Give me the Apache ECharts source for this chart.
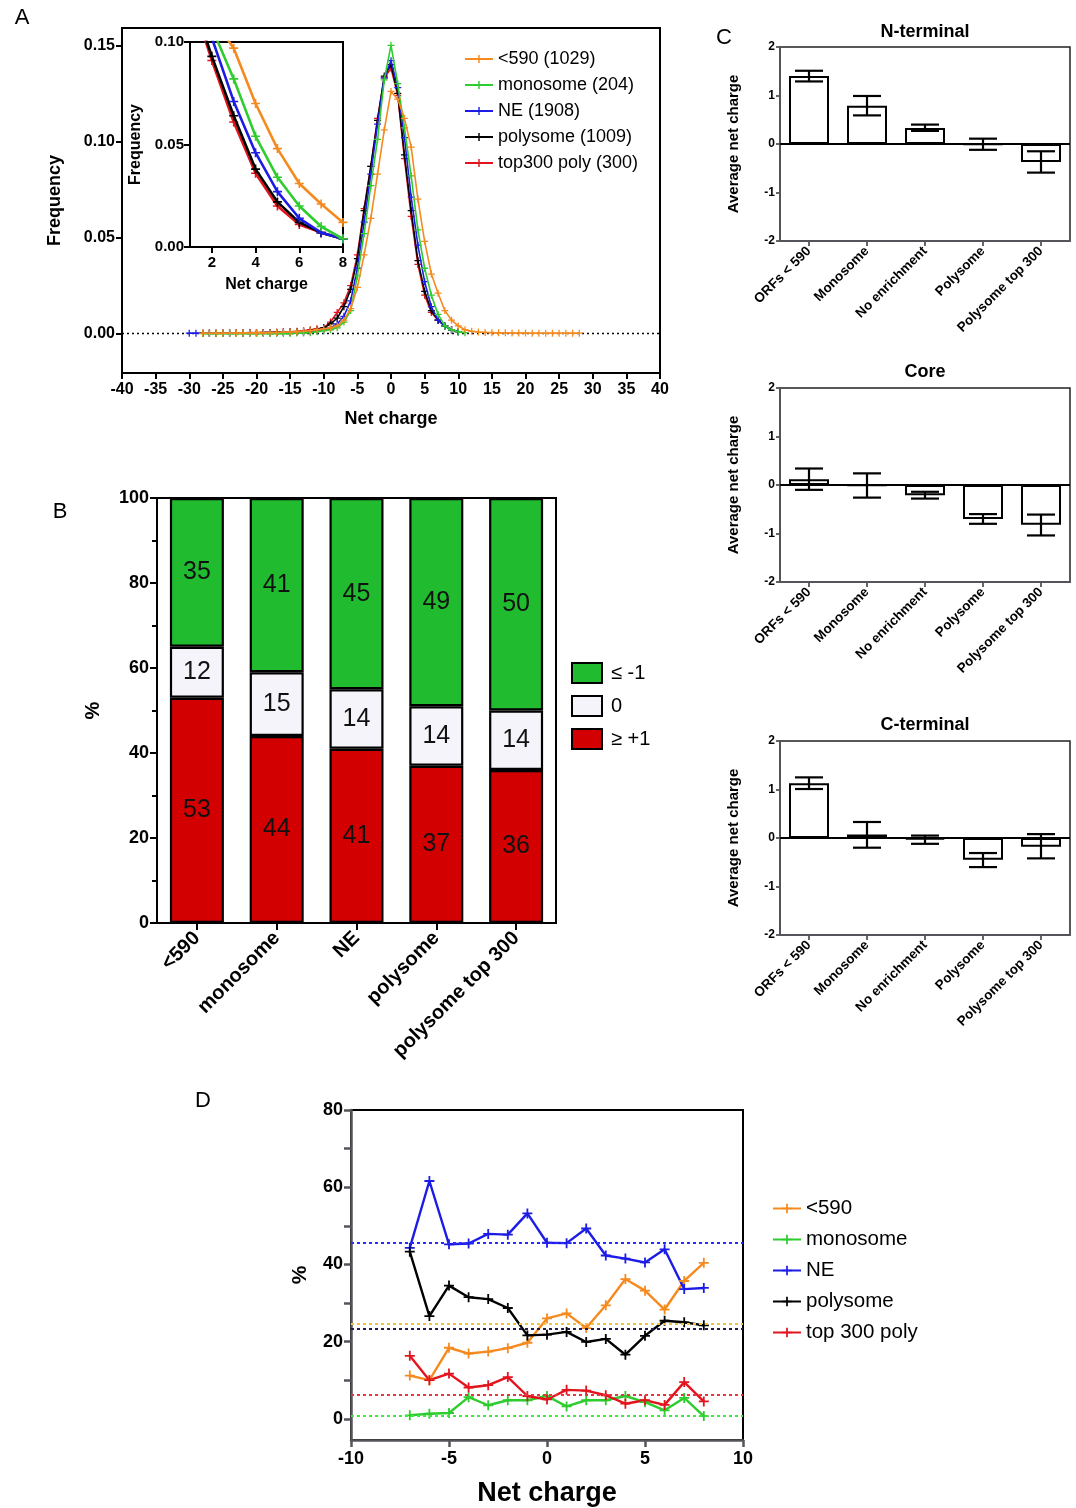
<!DOCTYPE html>
<html><head><meta charset="utf-8">
<script src="https://cdn.jsdelivr.net/npm/echarts@6/dist/echarts.min.js"></script>
<style>html,body{margin:0;padding:0;background:#fff}#c{width:1076px;height:1508px}</style>
</head><body><div id="c"></div><script>
const FONT = '"Liberation Sans", Arial, Helvetica, sans-serif';

// ---------- Panel A data (frequency vs net charge) ----------
const namesA = ['<590 (1029)', 'monosome (204)', 'NE (1908)', 'polysome (1009)', 'top300 poly (300)'];
const startA = [-28, -28, -30, -28, -28];
const freqOrange = [0.0003,0.0002,0.0003,0.0002,0.0003,0.0003,0.0004,0.0003,0.0005,0.0004,0.0005,0.0006,0.0008,0.0008,0.001,0.0012,
  0.0015,0.002,0.0025,0.003,0.004,0.007,0.013,0.024,0.041,0.060,0.083,0.106,
  0.126,
  0.122,0.112,0.097,0.070,0.048,0.031,0.021,0.012,0.007,0.004,0.002,0.0012,
  0.0008,0.0006,0.0005,0.0004,0.0004,0.0003,0.0003,0.0003,0.0002,0.0002,0.0002,0.0002,0.0002,0.0002,0.0002,0.0002];
const freqMonosome = [0,0,0,0,0,0,0,0,0,0,0,0,0,0,0.0003,0.0003,
  0.0005,0.001,0.0015,0.002,0.003,0.006,0.012,0.030,0.052,0.077,0.101,0.132,
  0.150,
  0.130,0.107,0.082,0.054,0.034,0.020,0.010,0.004,0.002,0.001,0.0005];
const freqNE = [0.0002,0.0002,0.0002,0.0002,0.0002,0.0002,0.0003,0.0003,0.0003,0.0003,0.0004,0.0004,0.0005,0.0005,0.0006,0.0007,0.0008,0.0009,
  0.001,0.0015,0.002,0.003,0.005,0.009,0.017,0.034,0.058,0.083,0.109,0.133,
  0.142,
  0.128,0.102,0.071,0.046,0.027,0.014,0.007,0.004,0.002,0.001];
const freqPolysome = [0.0002,0.0002,0.0002,0.0003,0.0002,0.0003,0.0003,0.0004,0.0003,0.0005,0.0005,0.0006,0.0008,0.0008,0.001,0.001,
  0.0015,0.002,0.003,0.005,0.008,0.014,0.023,0.039,0.064,0.087,0.111,0.134,
  0.140,
  0.125,0.093,0.064,0.038,0.022,0.012,0.007,0.004,0.002,0.001];
const freqTop300 = [0.0002,0.0003,0.0002,0.0003,0.0003,0.0004,0.0003,0.0005,0.0005,0.0006,0.0006,0.0008,0.001,0.001,0.0012,0.0015,
  0.002,0.0025,0.003,0.006,0.011,0.016,0.025,0.041,0.065,0.087,0.112,0.133,
  0.138,
  0.124,0.091,0.061,0.036,0.020,0.011,0.007,0.004,0.002,0.001];
const freqA = [freqOrange, freqMonosome, freqNE, freqPolysome, freqTop300];
const ticksAy = [0, 0.05, 0.10, 0.15];
const ticksInsetX = [2, 4, 6, 8];

// ---------- Panel B data ----------
const catsB = ['<590', 'monosome', 'NE', 'polysome', 'polysome top 300'];
const posB = [53, 44, 41, 37, 36];
const zeroB = [12, 15, 14, 14, 14];
const negB = [35, 41, 45, 49, 50];

// ---------- Panel C data ----------
const catsC = ['ORFs < 590', 'Monosome', 'No enrichment', 'Polysome', 'Polysome top 300'];
const titlesC = ['N-terminal', 'Core', 'C-terminal'];
const nTermMean = [1.40, 0.79, 0.33, -0.01, -0.37];
const nTermLow  = [1.29, 0.59, 0.27, -0.12, -0.59];
const nTermHigh = [1.51, 0.99, 0.40, 0.11, -0.15];
const coreMean = [0.12, -0.01, -0.21, -0.70, -0.82];
const coreLow  = [-0.10, -0.26, -0.28, -0.80, -1.04];
const coreHigh = [0.34, 0.24, -0.14, -0.60, -0.61];
const cTermMean = [1.13, 0.07, -0.03, -0.45, -0.18];
const cTermLow  = [1.01, -0.20, -0.12, -0.60, -0.42];
const cTermHigh = [1.25, 0.33, 0.05, -0.31, 0.08];

// ---------- Panel D data ----------
const namesD = ['<590', 'monosome', 'NE', 'polysome', 'top 300 poly'];
const chargeD = [-7,-6,-5,-4,-3,-2,-1,0,1,2,3,4,5,6,7,8];
const dOrange   = [11.2,10.0,18.4,16.9,17.4,18.3,19.7,26.0,27.3,23.5,29.4,36.2,33.2,28.3,35.7,40.4];
const dMonosome = [0.9,1.3,1.5,5.6,3.5,4.8,4.8,5.9,3.2,4.8,4.8,5.9,4.3,2.2,5.4,0.7];
const dNE       = [44.3,61.6,45.2,45.4,47.9,47.7,53.2,45.6,45.5,49.3,42.3,41.5,40.5,43.9,33.6,33.9];
const dPolysome = [43.3,26.6,34.5,31.5,31.0,28.7,21.6,21.8,22.5,19.9,20.7,16.6,21.5,25.4,25.0,24.2];
const dTop300   = [16.3,10.0,11.7,8.1,8.7,10.8,5.9,5.0,7.5,7.3,6.1,3.9,4.8,3.6,9.5,4.5];
const dMeans    = [24.7, 0.9, 45.5, 23.4, 6.3];
const ticksDyLabel = [0, 20, 40, 60, 80];
const ticksDy = [0, 10, 20, 30, 40, 50, 60, 70, 80];

// ---------- styling ----------
const colors = ['#f58a1f', '#2fcc2f', '#1c1ce6', '#000000', '#e3141e'];
const meanColors = ['#f0c43a', '#3ee83e', '#2a2aff', '#1c1c50', '#e8343c'];
const PLUS = 'path://M0,4.1H10V5.9H0Z M4.1,0H5.9V10H4.1Z';

function axisBase(fs, extra) {
  return Object.assign({
    axisLine: { show: true, onZero: false, lineStyle: { color: '#000', width: 2 } },
    axisTick: { show: true, length: 6, lineStyle: { color: '#000', width: 2 } },
    axisLabel: { color: '#000', fontWeight: 'bold', fontSize: fs, fontFamily: FONT },
    splitLine: { show: false },
    nameTextStyle: { color: '#000', fontWeight: 'bold', fontFamily: FONT }
  }, extra || {});
}
function deep(a, b) {
  const r = Object.assign({}, a);
  for (const k in b) {
    if (b[k] && typeof b[k] === 'object' && !Array.isArray(b[k]) && a[k] && typeof a[k] === 'object') r[k] = Object.assign({}, a[k], b[k]);
    else r[k] = b[k];
  }
  return r;
}

const grids = [
  { left: 122, top: 28, width: 538, height: 345 },   // 0 A main
  { left: 190, top: 42, width: 153, height: 205, backgroundColor: '#fff' }, // 1 A inset
  { left: 157, top: 498, width: 399, height: 425 },  // 2 B
  { left: 780, top: 47, width: 290, height: 194 },   // 3 C1
  { left: 780, top: 388, width: 290, height: 194 },  // 4 C2
  { left: 780, top: 741, width: 290, height: 194 },  // 5 C3
  { left: 351, top: 1110, width: 392, height: 330 }  // 6 D
].map((g, i) => Object.assign({ show: true, borderColor: i >= 3 && i <= 5 ? '#222' : '#000', borderWidth: i >= 3 && i <= 5 ? 1.5 : 2, outerBoundsMode: 'none', containLabel: false }, g));

const xAxes = [], yAxes = [];
// A main
xAxes.push(deep(axisBase(16), { gridIndex: 0, type: 'value', min: -40, max: 40, interval: 5,
  axisLabel: { margin: 9 }, name: 'Net charge', nameLocation: 'middle', nameGap: 37, nameTextStyle: { fontSize: 18 } }));
yAxes.push(deep(axisBase(16), { gridIndex: 0, type: 'value', min: -0.0205, max: 0.159,
  axisLabel: { customValues: ticksAy, formatter: v => v.toFixed(2), margin: 7 }, axisTick: { customValues: ticksAy },
  name: 'Frequency', nameLocation: 'middle', nameGap: 58, nameTextStyle: { fontSize: 18 } }));
// A inset
xAxes.push(deep(axisBase(15), { gridIndex: 1, type: 'value', min: 1, max: 8,
  axisLabel: { customValues: ticksInsetX, margin: 8 }, axisTick: { customValues: ticksInsetX },
  name: 'Net charge', nameLocation: 'middle', nameGap: 30, nameTextStyle: { fontSize: 16 } }));
yAxes.push(deep(axisBase(15), { gridIndex: 1, type: 'value', min: 0, max: 0.10, interval: 0.05,
  axisLabel: { formatter: v => v.toFixed(2), margin: 6 },
  name: 'Frequency', nameLocation: 'middle', nameGap: 46, nameTextStyle: { fontSize: 16 } }));
// B
xAxes.push(deep(axisBase(20), { gridIndex: 2, type: 'category', data: catsB,
  axisTick: { alignWithLabel: true, length: 7 }, axisLabel: { rotate: 45, margin: 12, interval: 0 } }));
yAxes.push(deep(axisBase(18), { gridIndex: 2, type: 'value', min: 0, max: 100, interval: 20,
  axisTick: { length: 7 }, minorTick: { show: true, splitNumber: 2, length: 5, lineStyle: { color: '#000', width: 2 } },
  name: '%', nameLocation: 'middle', nameGap: 54, nameRotate: 90, nameTextStyle: { fontSize: 20 } }));
// C
for (let k = 0; k < 3; k++) {
  xAxes.push(deep(axisBase(13.5), { gridIndex: 3 + k, type: 'category', data: catsC,
    axisLine: { lineStyle: { width: 1.8 } }, axisTick: { alignWithLabel: true, length: 5, lineStyle: { width: 1.8 } },
    axisLabel: { rotate: 45, margin: 8, interval: 0 } }));
  yAxes.push(deep(axisBase(12), { gridIndex: 3 + k, type: 'value', min: -2, max: 2, interval: 1,
    axisLine: { lineStyle: { width: 1.8 } }, axisTick: { length: 4, lineStyle: { width: 1.8 } }, axisLabel: { margin: 5 },
    name: 'Average net charge', nameLocation: 'middle', nameGap: 39, nameTextStyle: { fontSize: 15 } }));
}
// D
xAxes.push(deep(axisBase(18), { gridIndex: 6, type: 'value', min: -10, max: 10, interval: 5,
  axisLine: { lineStyle: { width: 2.5 } }, axisTick: { length: 7, lineStyle: { width: 2.5 } }, axisLabel: { margin: 10 },
  name: 'Net charge', nameLocation: 'middle', nameGap: 40, nameTextStyle: { fontSize: 27 } }));
yAxes.push(deep(axisBase(18), { gridIndex: 6, type: 'value', min: -5.5, max: 80,
  axisLine: { lineStyle: { width: 2.5 } },
  axisLabel: { customValues: ticksDyLabel, margin: 8 }, axisTick: { customValues: ticksDy, length: 7, lineStyle: { width: 2.5 } },
  name: '%', nameLocation: 'middle', nameGap: 40, nameRotate: 90, nameTextStyle: { fontSize: 21 } }));

const series = [];
freqA.forEach((arr, i) => {
  const data = arr.map((v, j) => [startA[i] + j, v]);
  const s = {
    type: 'line', name: namesA[i], xAxisIndex: 0, yAxisIndex: 0, data,
    symbol: PLUS, symbolSize: 7, showSymbol: true,
    lineStyle: { color: colors[i], width: 1.6 }, itemStyle: { color: colors[i] },
    z: i === 0 ? 8 : 3 + (4 - i) * 0.1, animation: false
  };
  if (i === 0) s.markLine = { silent: true, symbol: 'none', label: { show: false },
    lineStyle: { color: '#000', type: [2, 3], width: 1.3 }, data: [{ yAxis: 0 }], z: 1 };
  series.push(s);
});
freqA.forEach((arr, i) => {
  const data = arr.map((v, j) => [startA[i] + j, v]).filter(p => p[0] >= 1 && p[0] <= 8);
  series.push({
    type: 'line', name: namesA[i], xAxisIndex: 1, yAxisIndex: 1, data, clip: true,
    symbol: PLUS, symbolSize: 9, lineStyle: { color: colors[i], width: 2.6 }, itemStyle: { color: colors[i] },
    z: 10 - i, animation: false
  });
});
[['≥ +1', posB, '#d20000'], ['0', zeroB, '#f4f4fa'], ['≤ -1', negB, '#21bb30']].forEach(([nm, arr, col]) => {
  series.push({
    type: 'bar', name: nm, xAxisIndex: 2, yAxisIndex: 2, stack: 'B', data: arr, barWidth: 54,
    itemStyle: { color: col, borderColor: '#000', borderWidth: 2.2 },
    label: { show: true, position: 'inside', fontSize: 25, color: '#111', fontFamily: FONT },
    animation: false
  });
});
const cMeans = [nTermMean, coreMean, cTermMean];
const cLows = [nTermLow, coreLow, cTermLow];
const cHighs = [nTermHigh, coreHigh, cTermHigh];
function renderErr(params, api) {
  const x = api.value(0), lo = api.value(1), hi = api.value(2);
  const pLo = api.coord([x, lo]), pHi = api.coord([x, hi]);
  const hw = 14;
  const st = { stroke: '#000', lineWidth: 2.2 };
  return { type: 'group', children: [
    { type: 'line', shape: { x1: pLo[0], y1: pLo[1], x2: pHi[0], y2: pHi[1] }, style: st },
    { type: 'line', shape: { x1: pLo[0] - hw, y1: pLo[1], x2: pLo[0] + hw, y2: pLo[1] }, style: st },
    { type: 'line', shape: { x1: pHi[0] - hw, y1: pHi[1], x2: pHi[0] + hw, y2: pHi[1] }, style: st }
  ] };
}
for (let k = 0; k < 3; k++) {
  series.push({
    type: 'bar', name: titlesC[k], xAxisIndex: 3 + k, yAxisIndex: 3 + k, data: cMeans[k], barWidth: 40,
    itemStyle: { color: '#fff', borderColor: '#000', borderWidth: 2 }, animation: false,
    markLine: { silent: true, symbol: 'none', label: { show: false }, lineStyle: { color: '#000', type: 'solid', width: 1.8 }, data: [{ yAxis: 0 }] }
  });
  series.push({
    type: 'custom', name: titlesC[k] + ' SEM', xAxisIndex: 3 + k, yAxisIndex: 3 + k,
    data: cMeans[k].map((m, j) => [j, cLows[k][j], cHighs[k][j]]),
    encode: { x: 0, y: [1, 2] }, renderItem: renderErr, z: 5, animation: false
  });
}
[dOrange, dMonosome, dNE, dPolysome, dTop300].forEach((arr, i) => {
  series.push({
    type: 'line', name: namesD[i], xAxisIndex: 6, yAxisIndex: 6,
    data: arr.map((v, j) => [chargeD[j], v]),
    symbol: PLUS, symbolSize: 10, lineStyle: { color: colors[i], width: 2.4 }, itemStyle: { color: colors[i] },
    animation: false,
    markLine: { silent: true, symbol: 'none', label: { show: false },
      lineStyle: { color: meanColors[i], type: [3, 3], width: 2 }, data: [{ yAxis: dMeans[i] }] }
  });
});

const legendText = { color: '#000', fontFamily: FONT };
const legends = [
  { data: namesA, orient: 'vertical', left: 459, top: 45, itemWidth: 28, itemHeight: 10, itemGap: 8,
    textStyle: Object.assign({ fontSize: 18 }, legendText) },
  { data: ['≤ -1', '0', '≥ +1'], orient: 'vertical', left: 566, top: 657, itemWidth: 30, itemHeight: 20, itemGap: 11, icon: 'rect',
    textStyle: Object.assign({ fontSize: 20, padding: [0, 0, 0, 4] }, legendText) },
  { data: namesD, orient: 'vertical', left: 767, top: 1193, itemWidth: 28, itemHeight: 12, itemGap: 10,
    textStyle: Object.assign({ fontSize: 20.5 }, legendText) }
];

const letter = (t, x, y) => ({ type: 'text', x, y, style: { text: t, font: '22px ' + FONT, fill: '#000', textAlign: 'center', textVerticalAlign: 'middle' } });
const ctitle = (t, y) => ({ type: 'text', x: 925, y, style: { text: t, font: 'bold 18px ' + FONT, fill: '#000', textAlign: 'center', textVerticalAlign: 'middle' } });
const graphics = [
  letter('A', 22, 18), letter('B', 60, 512), letter('C', 724, 38), letter('D', 203, 1101),
  ctitle(titlesC[0], 32), ctitle(titlesC[1], 372), ctitle(titlesC[2], 725)
];

const chart = echarts.init(document.getElementById('c'), null, { renderer: 'canvas' });
chart.setOption({
  backgroundColor: '#fff',
  animation: false,
  textStyle: { fontFamily: FONT },
  grid: grids, xAxis: xAxes, yAxis: yAxes, series, legend: legends, graphic: graphics
});
</script></body></html>
